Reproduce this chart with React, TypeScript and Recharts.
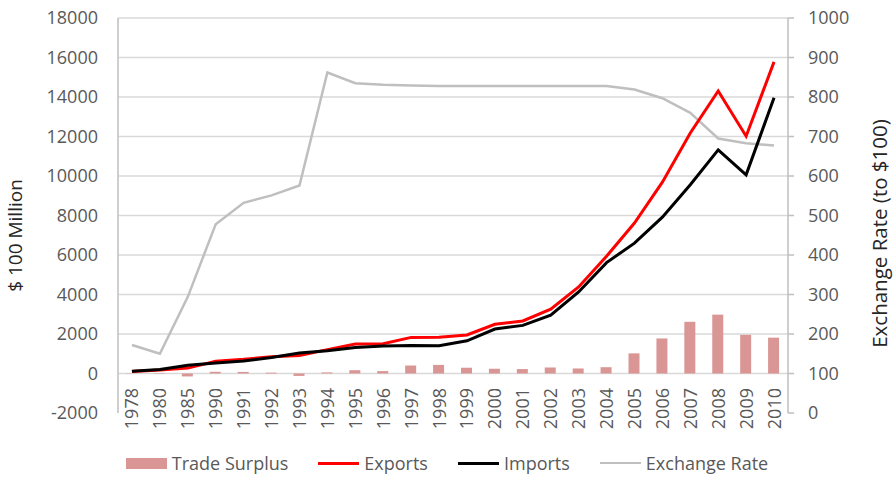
import { ComposedChart, Bar, Line, XAxis, YAxis, CartesianGrid } from 'recharts';

// years on the category axis
const years = [
  '1978', '1980', '1985', '1990', '1991', '1992', '1993', '1994', '1995', '1996', '1997', '1998',
  '1999', '2000', '2001', '2002', '2003', '2004', '2005', '2006', '2007', '2008', '2009', '2010',
];

// $ 100 million
const exportsVals = [
  98, 181, 274, 621, 719, 849, 917, 1210, 1488, 1511, 1828, 1837,
  1949, 2492, 2661, 3256, 4382, 5933, 7620, 9689, 12178, 14307, 12016, 15778,
];
const importsVals = [
  109, 200, 423, 534, 638, 806, 1040, 1156, 1321, 1388, 1424, 1402,
  1657, 2251, 2436, 2952, 4128, 5614, 6600, 7915, 9561, 11326, 10059, 13962,
];
const surplusVals = [
  -11, -19, -149, 87, 81, 43, -122, 54, 167, 122, 404, 435,
  292, 241, 225, 304, 255, 319, 1020, 1775, 2618, 2981, 1957, 1815,
];
// yuan per $100
const rateVals = [
  172, 150, 294, 478, 532, 551, 576, 862, 835, 831, 829, 828,
  828, 828, 828, 828, 828, 828, 819, 797, 760, 695, 683, 677,
];

const leftTicks = [-2000, 0, 2000, 4000, 6000, 8000, 10000, 12000, 14000, 16000, 18000];
const rightTicks = [0, 100, 200, 300, 400, 500, 600, 700, 800, 900, 1000];

const data = years.map((y, i) => ({
  year: y,
  surplus: surplusVals[i],
  exports: exportsVals[i],
  imports: importsVals[i],
  rate: rateVals[i],
}));

const W = 894;
const H = 477;
const TOP = 18;
const BOTTOM = 64;
const FONT = '"Open Sans", sans-serif';
const plotH = H - TOP - BOTTOM;
const zeroY = TOP + (plotH * 18000) / 20000;

const YearTick = (props: any) => {
  const { x, payload } = props;
  return (
    <g transform={`translate(${x},${zeroY + 14.5})`}>
      <text transform="rotate(-90)" textAnchor="end" dy="0.36em" fill="#595959" fontSize={18} fontFamily={FONT}>
        {payload.value}
      </text>
    </g>
  );
};

const legendItems = [
  { name: 'Trade Surplus', kind: 'bar', color: '#D99694' },
  { name: 'Exports', kind: 'line', color: '#FF0000' },
  { name: 'Imports', kind: 'line', color: '#000000' },
  { name: 'Exchange Rate', kind: 'line', color: '#BFBFBF' },
];

export default function App() {
  return (
    <div style={{ position: 'relative', width: W, height: H, fontFamily: FONT, background: '#fff' }}>
      <style>{'body{margin:0}'}</style>
      <ComposedChart width={W} height={H} data={data} margin={{ top: TOP, right: 0, bottom: 0, left: 0 }}>
        <CartesianGrid
          yAxisId="left"
          vertical={false}
          stroke="#D9D9D9"
          strokeWidth={1.5}
          horizontalValues={leftTicks.filter((t) => t >= 0)}
        />
        <XAxis dataKey="year" height={BOTTOM} axisLine={false} tickLine={false} tick={<YearTick />} interval={0} />
        <YAxis
          yAxisId="left"
          width={118}
          domain={[-2000, 18000]}
          ticks={leftTicks}
          interval={0}
          axisLine={{ stroke: '#BFBFBF', strokeWidth: 1.5 }}
          tickSize={0}
          tickMargin={20}
          tick={{ fill: '#595959', fontSize: 18, fontFamily: FONT }}
          label={{
            value: '$ 100 Million',
            angle: -90,
            position: 'insideLeft',
            dx: 10,
            dy: 20,
            style: { textAnchor: 'middle', fill: '#262626', fontSize: 19, fontFamily: FONT },
          }}
        />
        <YAxis
          yAxisId="right"
          orientation="right"
          width={106}
          domain={[0, 1000]}
          ticks={rightTicks}
          interval={0}
          axisLine={{ stroke: '#BFBFBF', strokeWidth: 1.5 }}
          tickLine={{ stroke: '#BFBFBF', strokeWidth: 1.5 }}
          tickSize={6}
          tickMargin={14}
          tick={{ fill: '#595959', fontSize: 18, fontFamily: FONT }}
          label={{
            value: 'Exchange Rate (to $100)',
            angle: -90,
            position: 'insideRight',
            dx: -9,
            dy: 18,
            style: { textAnchor: 'middle', fill: '#262626', fontSize: 20.5, fontFamily: FONT },
          }}
        />
        <Bar yAxisId="left" dataKey="surplus" name="Trade Surplus" fill="#D99694" barSize={11} isAnimationActive={false} />
        <Line yAxisId="right" dataKey="rate" name="Exchange Rate" stroke="#BFBFBF" strokeWidth={2.5} dot={false} isAnimationActive={false} />
        <Line yAxisId="left" dataKey="exports" name="Exports" stroke="#FF0000" strokeWidth={3} dot={false} isAnimationActive={false} />
        <Line yAxisId="left" dataKey="imports" name="Imports" stroke="#000000" strokeWidth={3} dot={false} isAnimationActive={false} />
      </ComposedChart>
      <div
        style={{
          position: 'absolute',
          left: 0,
          width: W,
          top: 451,
          display: 'flex',
          justifyContent: 'center',
          gap: 30,
          fontSize: 18,
          color: '#595959',
        }}
      >
        {legendItems.map((it) => (
          <div key={it.name} style={{ display: 'flex', alignItems: 'center', gap: 5 }}>
            <div
              style={{
                width: 41,
                height: it.kind === 'bar' ? 11 : it.color === '#BFBFBF' ? 2.5 : 3,
                background: it.color,
              }}
            />
            <span>{it.name}</span>
          </div>
        ))}
      </div>
    </div>
  );
}
